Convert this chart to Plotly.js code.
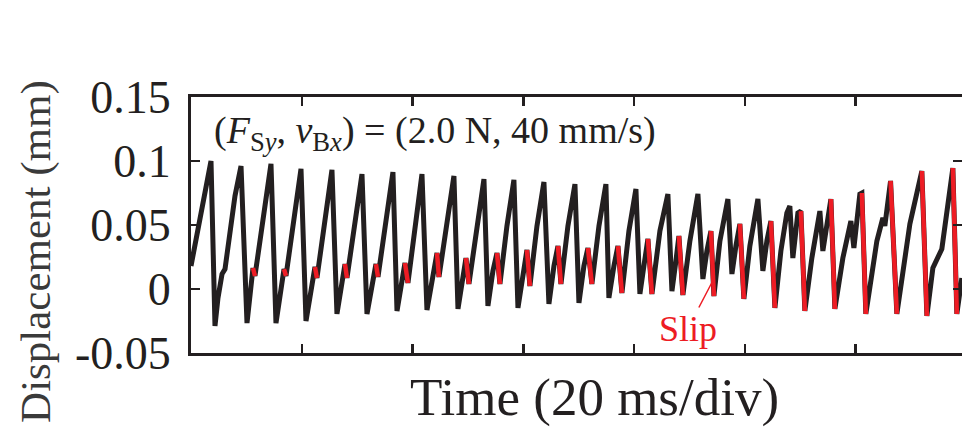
<!DOCTYPE html>
<html><head><meta charset="utf-8">
<script src="https://cdn.plot.ly/plotly-3.0.1.min.js"></script>
<style>html,body{margin:0;padding:0;background:#fff}</style>
</head><body><div id="chart" style="width:962px;height:428px"></div>
<script>
// Time in ms (20 ms per division), displacement in mm
const timeMs = [0, 1.81, 2.89, 3.61, 4.33, 4.87, 5.60, 6.14, 7.94, 9.03,
  10.11, 10.83, 11.19, 11.55, 12.82, 14.44, 15.34, 16.07, 16.79, 17.15,
  18.41, 19.86, 20.76, 21.66, 22.38, 22.74, 24.01, 25.45, 26.35, 27.08,
  27.80, 28.16, 29.42, 30.87, 31.77, 32.67, 33.39, 33.76, 35.02, 36.46,
  37.19, 37.91, 38.63, 39.17, 40.43, 41.70, 42.60, 43.50, 44.41, 44.77,
  46.03, 47.47, 48.20, 48.92, 49.64, 50.18, 51.63, 52.89, 53.61, 54.51,
  55.24, 55.78, 57.04, 58.30, 59.03, 59.93, 60.65, 61.19, 62.46, 63.72,
  64.62, 65.53, 66.25, 66.79, 68.05, 69.32, 70.04, 70.94, 71.66, 72.38,
  73.65, 74.91, 75.45, 76.36, 77.08, 77.80, 79.06, 80.33, 81.05, 81.77,
  82.49, 83.22, 84.66, 86.10, 86.83, 87.55, 88.09, 88.81, 90.07, 91.52,
  92.42, 93.14, 93.87, 94.41, 95.49, 96.93, 97.66, 98.38, 99.10, 99.82,
  100.90, 102.35, 103.25, 103.97, 104.70, 105.42, 106.50, 107.58, 108.12, 108.66,
  109.57, 110.11, 110.83, 112.09, 113.54, 114.08, 114.80, 115.53, 116.25, 117.69,
  119.14, 119.68, 120.76, 121.12, 121.84, 123.83, 124.91, 125.27, 126.30, 127.44,
  129.79, 130.87, 131.95, 132.86, 133.94, 135.56, 137.55, 138.27, 139.17];
const dispMm = [0.0180, 0.0586, 0.0805, 0.1000, -0.0289, -0.0070, 0.0117, 0.0156, 0.0727, 0.0961,
  -0.0266, -0.0016, 0.0164, 0.0102, 0.0492, 0.0977, -0.0266, -0.0016, 0.0156, 0.0102,
  0.0492, 0.0938, -0.0250, -0.0016, 0.0172, 0.0086, 0.0492, 0.0930, -0.0195, -0.0016,
  0.0195, 0.0086, 0.0492, 0.0898, -0.0195, 0.0039, 0.0195, 0.0094, 0.0492, 0.0914,
  -0.0172, 0.0039, 0.0203, 0.0047, 0.0492, 0.0898, -0.0164, 0.0078, 0.0281, 0.0094,
  0.0492, 0.0883, -0.0156, 0.0039, 0.0242, 0.0039, 0.0492, 0.0859, -0.0133, 0.0141,
  0.0281, 0.0039, 0.0492, 0.0852, -0.0148, 0.0141, 0.0305, 0.0023, 0.0492, 0.0836,
  -0.0117, 0.0180, 0.0336, 0.0039, 0.0492, 0.0820, -0.0109, 0.0180, 0.0320, 0.0039,
  0.0492, 0.0820, -0.0070, 0.0180, 0.0336, -0.0031, 0.0453, 0.0781, -0.0039, 0.0180,
  0.0391, -0.0039, 0.0453, 0.0742, -0.0016, 0.0219, 0.0414, -0.0047, 0.0375, 0.0742,
  0.0078, 0.0297, 0.0453, -0.0055, 0.0375, 0.0703, 0.0117, 0.0336, 0.0508, -0.0078,
  0.0336, 0.0703, 0.0141, 0.0375, 0.0531, -0.0148, 0.0297, 0.0594, 0.0648, 0.0242,
  0.0594, 0.0609, -0.0172, 0.0242, 0.0609, 0.0297, 0.0531, 0.0703, -0.0156, 0.0242,
  0.0531, 0.0320, 0.0742, 0.0750, -0.0195, 0.0375, 0.0555, 0.0492, 0.0844, -0.0195,
  0.0508, 0.0711, 0.0922, -0.0211, 0.0164, 0.0313, 0.0945, -0.0195, 0.0086];
// index of the point where each slip segment begins (segment i -> i+1)
const slipStart = [12, 18, 24, 30, 36, 42, 48, 54, 60, 66, 72, 78, 84, 90, 96,
  102, 108, 114, 121, 127, 133, 138, 142, 146];
const yTicks = [-0.05, 0, 0.05, 0.1, 0.15];
const yTickText = ['-0.05', '0', '0.05', '0.1', '0.15'];

const slipT = [], slipV = [];
slipStart.forEach(i => { slipT.push(timeMs[i], timeMs[i + 1], null); slipV.push(dispMm[i], dispMm[i + 1], null); });

const ink = '#231f20', red = '#ed1c24';
const serif = 'Liberation Serif, Times New Roman, serif';

const traces = [
  {x: timeMs, y: dispMm, mode: 'lines', line: {color: ink, width: 5}, hoverinfo: 'skip'},
  {x: slipT, y: slipV, mode: 'lines', line: {color: red, width: 4.5}, connectgaps: false, hoverinfo: 'skip'}
];

const axisCommon = {
  showgrid: false, zeroline: false, showline: true, linecolor: ink, linewidth: 3,
  mirror: 'ticks', ticks: 'inside', ticklen: 9, tickwidth: 2.5, tickcolor: ink
};

const layout = {
  width: 962, height: 428,
  margin: {l: 191, r: 0, t: 97, b: 75, pad: 0},
  paper_bgcolor: '#fff', plot_bgcolor: '#fff',
  showlegend: false,
  font: {family: serif, color: ink},
  xaxis: Object.assign({}, axisCommon, {range: [0, 139.2], tick0: 0, dtick: 20, showticklabels: false}),
  yaxis: Object.assign({}, axisCommon, {range: [-0.05, 0.15], tickvals: yTicks, ticktext: yTickText,
    tickfont: {family: serif, size: 46, color: ink}, ticklabelstandoff: 8}),
  annotations: [
    {xref: 'paper', yref: 'paper', x: -0.201, y: 0.395, text: 'Displacement (mm)', textangle: -90,
     showarrow: false, xanchor: 'center', yanchor: 'middle', font: {family: serif, size: 43, color: '#3a3a3a'}},
    {xref: 'paper', yref: 'paper', x: 0.523, y: -0.172, text: 'Time (20 ms/div)',
     showarrow: false, xanchor: 'center', yanchor: 'middle', font: {family: serif, size: 53, color: ink}},
    {xref: 'paper', yref: 'paper', x: 0.027, y: 0.859, xanchor: 'left', yanchor: 'middle', showarrow: false,
     text: '(<i>F</i><sub>S<i>y</i></sub>, <i>v</i><sub>B<i>x</i></sub>) = (2.0 N, 40 mm/s)',
     font: {family: serif, size: 38, color: ink}},
    {x: 94.0, y: 0.0047, xref: 'x', yref: 'y', text: 'Slip', showarrow: true, arrowhead: 0,
     arrowwidth: 1.5, arrowcolor: red, ax: -24, ay: 46, font: {family: serif, size: 36, color: red}}
  ]
};

Plotly.newPlot('chart', traces, layout, {displayModeBar: false, staticPlot: true});
</script>
</body></html>
